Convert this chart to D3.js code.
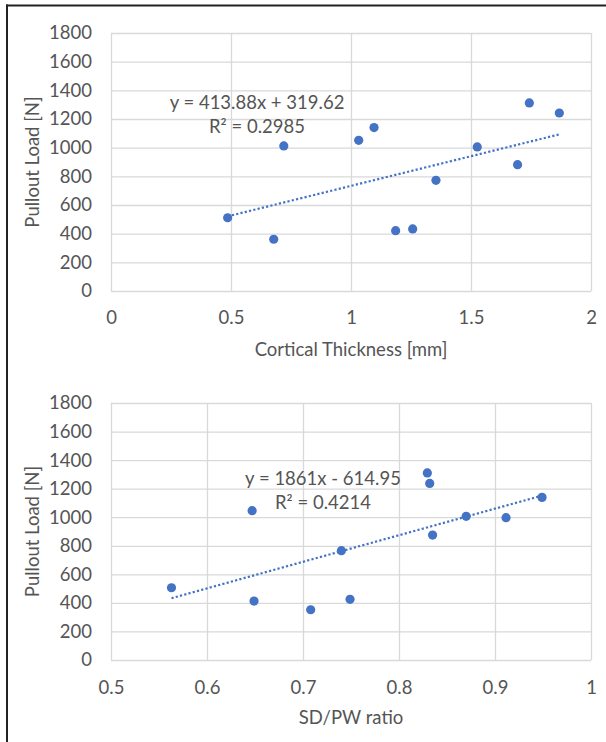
<!DOCTYPE html>
<html>
<head>
<meta charset="utf-8">
<script src="https://cdn.jsdelivr.net/npm/d3@7/dist/d3.min.js"></script>
<style>
  html, body { margin: 0; padding: 0; background: #fff; }
  svg { display: block; }
  text { font-family: Lato, "Open Sans", sans-serif; fill: #555; }
</style>
</head>
<body>
<svg id="chart" width="606" height="742"></svg>
<script>
// ---- Data ----
const pulloutLoad = [511, 361, 1012, 1051, 1140, 421, 433, 772, 1005, 881, 1312, 1242];
const corticalThickness = [0.486, 0.678, 0.72, 1.032, 1.096, 1.186, 1.257, 1.354, 1.526, 1.694, 1.743, 1.868];
const pulloutLoad2 = [506, 1046, 413, 352, 766, 425, 1310, 1237, 875, 1006, 997, 1139];
const sdPwRatio = [0.563, 0.647, 0.649, 0.708, 0.740, 0.749, 0.8295, 0.832, 0.835, 0.870, 0.9115, 0.949];

const yTicks = [0, 200, 400, 600, 800, 1000, 1200, 1400, 1600, 1800];
const xTicks1 = [0, 0.5, 1, 1.5, 2];
const xTicks2 = [0.5, 0.6, 0.7, 0.8, 0.9, 1];

const trend1 = [413.88, 319.62]; // slope, intercept
const trend2 = [1861, -614.95];
const eq1 = ["y = 413.88x + 319.62", "R² = 0.2985"];
const eq2 = ["y = 1861x - 614.95", "R² = 0.4214"];

const xTitle1 = "Cortical Thickness [mm]";
const xTitle2 = "SD/PW ratio";
const yTitle = "Pullout Load [N]";

const svg = d3.select("#chart");
const BLUE = "#4472c4";
const FS = "18.5px";

// frame
svg.append("line").attr("x1", 7).attr("x2", 7).attr("y1", 4.5).attr("y2", 742)
  .attr("stroke", "#222").attr("stroke-width", 2);
svg.append("line").attr("x1", 6).attr("x2", 606).attr("y1", 5.5).attr("y2", 5.5)
  .attr("stroke", "#222").attr("stroke-width", 2);

function drawChart(cfg) {
  const x = d3.scaleLinear().domain(cfg.xDomain).range([cfg.left, cfg.right]);
  const y = d3.scaleLinear().domain([0, 1800]).range([cfg.bottom, cfg.top]);
  const g = svg.append("g");

  // horizontal gridlines + y labels
  const ya = d3.axisLeft(y).tickValues(yTicks).tickSizeInner(-(cfg.right - cfg.left))
    .tickSizeOuter(0).tickPadding(19).tickFormat(d3.format("d"));
  const yg = g.append("g").attr("transform", `translate(${cfg.left},0)`).call(ya);
  yg.select(".domain").remove();
  yg.selectAll("line").attr("stroke", "#d9d9d9").attr("stroke-width", 1.3);
  yg.selectAll("text").style("font-size", FS).attr("fill", "#555")
    .style("font-family", "Lato, 'Open Sans', sans-serif");

  // vertical gridlines + x labels
  const xa = d3.axisBottom(x).tickValues(cfg.xTicks).tickSizeInner(-(cfg.bottom - cfg.top))
    .tickSizeOuter(0).tickPadding(cfg.xPad).tickFormat(d => String(d));
  const xg = g.append("g").attr("transform", `translate(0,${cfg.bottom})`).call(xa);
  xg.select(".domain").remove();
  xg.selectAll("line").attr("stroke", "#d9d9d9").attr("stroke-width", 1.3);
  xg.selectAll("text").style("font-size", FS).attr("fill", "#555")
    .style("font-family", "Lato, 'Open Sans', sans-serif");

  // trendline
  const xs = cfg.xs, ys = cfg.ys;
  const x0 = d3.min(xs), x1 = d3.max(xs);
  g.append("line")
    .attr("x1", x(x0)).attr("y1", y(cfg.trend[0] * x0 + cfg.trend[1]))
    .attr("x2", x(x1)).attr("y2", y(cfg.trend[0] * x1 + cfg.trend[1]))
    .attr("stroke", BLUE).attr("stroke-width", 2.2).attr("stroke-dasharray", "2.2,2.2");

  // points
  g.selectAll("circle.pt").data(xs.map((v, i) => [v, ys[i]])).join("circle")
    .attr("class", "pt")
    .attr("cx", d => x(d[0])).attr("cy", d => y(d[1])).attr("r", 4.6)
    .attr("fill", BLUE);

  // equation labels
  g.append("text").attr("x", cfg.eqX).attr("y", cfg.eqY).attr("text-anchor", "middle")
    .style("font-size", FS).text(cfg.eq[0]);
  g.append("text").attr("x", cfg.eqX).attr("y", cfg.eqY + 24).attr("text-anchor", "middle")
    .style("font-size", FS).text(cfg.eq[1]);

  // axis titles
  g.append("text").attr("x", (cfg.left + cfg.right) / 2).attr("y", cfg.xTitleY)
    .attr("text-anchor", "middle").style("font-size", FS).text(cfg.xTitle);
  g.append("text")
    .attr("transform", `translate(39,${(cfg.top + cfg.bottom) / 2}) rotate(-90)`)
    .attr("text-anchor", "middle").style("font-size", FS).text(yTitle);
}

drawChart({
  xDomain: [0, 2], xTicks: xTicks1, left: 111, right: 591, top: 33, bottom: 291,
  xPad: 20, xs: corticalThickness, ys: pulloutLoad, trend: trend1,
  eq: eq1, eqX: 257, eqY: 109, xTitle: xTitle1, xTitleY: 356
});
drawChart({
  xDomain: [0.5, 1], xTicks: xTicks2, left: 111, right: 591, top: 403, bottom: 660,
  xPad: 21, xs: sdPwRatio, ys: pulloutLoad2, trend: trend2,
  eq: eq2, eqX: 323, eqY: 485, xTitle: xTitle2, xTitleY: 724
});
</script>
</body>
</html>
